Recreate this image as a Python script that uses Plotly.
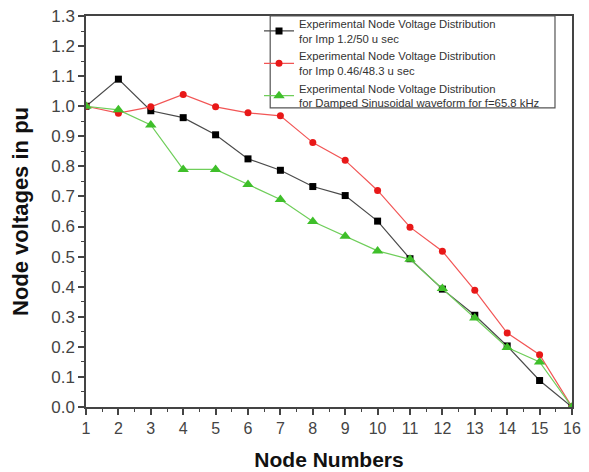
import plotly.graph_objects as go

nodes = list(range(1, 17))
imp_12_50 = [1.0, 1.09, 0.985, 0.962, 0.905, 0.825, 0.787, 0.733, 0.703, 0.618,
             0.493, 0.392, 0.305, 0.203, 0.088, 0.0]
imp_046_483 = [1.0, 0.977, 0.998, 1.039, 0.998, 0.978, 0.968, 0.879, 0.82, 0.72,
               0.598, 0.518, 0.388, 0.246, 0.174, 0.0]
damped_sin = [1.0, 0.988, 0.938, 0.79, 0.79, 0.74, 0.69, 0.617, 0.568, 0.519,
              0.491, 0.394, 0.296, 0.198, 0.15, 0.0]

y_ticks = [0.0, 0.1, 0.2, 0.3, 0.4, 0.5, 0.6, 0.7, 0.8, 0.9, 1.0, 1.1, 1.2, 1.3]

names = [
    "Experimental Node Voltage Distribution<br>for Imp 1.2/50 u sec",
    "Experimental Node Voltage Distribution<br>for Imp 0.46/48.3 u sec",
    "Experimental Node Voltage Distribution<br>for Damped Sinusoidal waveform for f=65.8 kHz",
]

FONT = "Liberation Sans, Arial, sans-serif"

fig = go.Figure()
fig.add_trace(go.Scatter(
    x=nodes, y=imp_12_50, name=names[0], mode="lines+markers",
    line=dict(color="#4a4a4a", width=1.2),
    marker=dict(symbol="square", size=7, color="#000000"),
))
fig.add_trace(go.Scatter(
    x=nodes, y=imp_046_483, name=names[1], mode="lines+markers",
    line=dict(color="#f25555", width=1.2),
    marker=dict(symbol="circle", size=7, color="#e81818"),
))
fig.add_trace(go.Scatter(
    x=nodes, y=damped_sin, name=names[2], mode="lines+markers",
    line=dict(color="#6fce5a", width=1.2),
    marker=dict(symbol="triangle-up", size=10, color="#3fbf2a"),
))

# legend frame (white box with grey border); the legend text sits on top of it
fig.add_shape(
    type="rect", xref="paper", yref="paper",
    x0=0.379, x1=0.965, y0=0.765, y1=1.0,
    line=dict(color="#555555", width=1.2), fillcolor="white", layer="above",
)

fig.update_layout(
    width=589, height=472,
    margin=dict(l=78, r=25, t=8, b=73, autoexpand=False),
    paper_bgcolor="white", plot_bgcolor="white",
    font=dict(family=FONT, color="#333333"),
    showlegend=True,
    legend=dict(
        x=0.356, y=1.016, xanchor="left", yanchor="top",
        bgcolor="rgba(0,0,0,0)", borderwidth=0,
        font=dict(family=FONT, size=11.3, color="#333333"),
        tracegroupgap=0, itemwidth=30,
    ),
    xaxis=dict(
        range=[1, 16], tickmode="linear", tick0=1, dtick=1, automargin=False,
        ticklabeloverflow="allow",
        showgrid=False, zeroline=False,
        showline=True, linecolor="#444444", linewidth=1.5, mirror=True,
        ticks="outside", ticklen=6, tickwidth=1.5, tickcolor="#444444",
        minor=dict(dtick=0.5, ticks="outside", ticklen=3, tickwidth=1.2, tickcolor="#444444", showgrid=False),
        tickfont=dict(family=FONT, size=16, color="#444444"),
        title=dict(text="<b>Node Numbers</b>", font=dict(family=FONT, size=21, color="#111111"), standoff=16),
    ),
    yaxis=dict(
        range=[0, 1.3], tickmode="array", tickvals=y_ticks,
        ticktext=[f"{v:.1f}" for v in y_ticks], automargin=False,
        ticklabeloverflow="allow",
        showgrid=False, zeroline=False,
        showline=True, linecolor="#444444", linewidth=1.5, mirror=True,
        ticks="outside", ticklen=6, tickwidth=1.5, tickcolor="#444444",
        minor=dict(dtick=0.05, ticks="outside", ticklen=3, tickwidth=1.2, tickcolor="#444444", showgrid=False),
        tickfont=dict(family=FONT, size=17, color="#444444"),
        title=dict(text="<b>Node voltages in pu</b>", font=dict(family=FONT, size=22, color="#111111"), standoff=20),
    ),
)

fig.write_html("out.html")
